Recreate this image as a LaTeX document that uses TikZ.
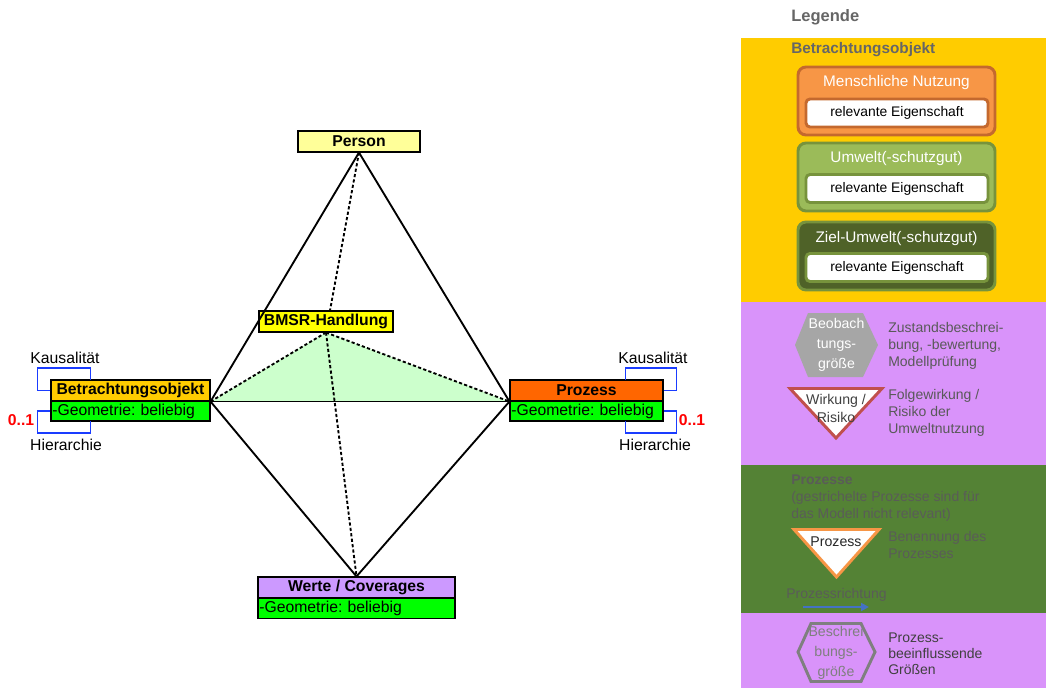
\documentclass[tikz,border=0pt]{standalone}
\usepackage{fontspec}
\setmainfont{Liberation Sans}
\usetikzlibrary{arrows.meta}
\definecolor{personyellow}{HTML}{FFFF99}
\definecolor{bmsryellow}{HTML}{FFFF00}
\definecolor{boorange}{HTML}{FFCC00}
\definecolor{pzorange}{HTML}{FF6600}
\definecolor{wertelila}{HTML}{CC99FF}
\definecolor{attrgreen}{HTML}{00FF00}
\definecolor{trifill}{HTML}{CCFFCC}
\definecolor{loopblue}{HTML}{1A3CFF}
\definecolor{legyellow}{HTML}{FFCC00}
\definecolor{legpurple}{HTML}{D993FA}
\definecolor{leggreen}{HTML}{548235}
\definecolor{orangefill}{HTML}{F79646}
\definecolor{orangeborder}{HTML}{C4692E}
\definecolor{greenfill}{HTML}{9BBB59}
\definecolor{greenborder}{HTML}{77933C}
\definecolor{darkgreenfill}{HTML}{4F6228}
\definecolor{hexgray}{HTML}{A6A6A6}
\definecolor{trired}{HTML}{C0504D}
\definecolor{triorange}{HTML}{F79646}
\definecolor{arrowblue}{HTML}{4472C4}
\definecolor{hexline}{HTML}{7F7F7F}
\definecolor{greentext}{HTML}{5A5C58}
\definecolor{descgray}{HTML}{595959}
\definecolor{darkdesc}{HTML}{404040}
\definecolor{titlegray}{HTML}{666666}
\frenchspacing
\begin{document}
\begin{tikzpicture}[x=0.75pt,y=-0.75pt,
  hdr/.style={draw=black, line width=0.8pt, inner sep=0pt, minimum height=15.75pt,
    font=\fontsize{11.8}{14}\selectfont\bfseries},
  attr/.style={draw=black, line width=0.8pt, fill=attrgreen, inner ysep=0pt, inner xsep=1pt,
    minimum height=15pt, align=left, font=\fontsize{11.8}{14}\selectfont},
  edgeline/.style={line width=1.4pt},
  dotline/.style={line width=1.4pt, dash pattern=on 2.4pt off 1.7pt},
  loopline/.style={draw=loopblue, line width=1.4pt},
  lbl/.style={inner sep=0pt, font=\fontsize{11.8}{14}\selectfont},
  mult/.style={inner sep=0pt, text=red, font=\fontsize{11.8}{14}\selectfont\bfseries},
  outerbox/.style={rounded corners=6pt, line width=2.2pt, minimum width=147.75pt, minimum height=51pt, inner sep=0pt},
  innerbox/.style={rounded corners=3pt, line width=2.2pt, fill=white, minimum width=136.5pt, minimum height=21pt, inner sep=0pt,
    font=\fontsize{10.4}{12}\selectfont},
  boxtitle/.style={inner sep=0pt, text=white, font=\fontsize{11.5}{13}\selectfont},
  desc/.style={anchor=west, inner sep=0pt, align=left, font=\fontsize{10.5}{12.75}\selectfont},
  shapetext/.style={inner sep=0pt, align=center, font=\fontsize{10.3}{15}\selectfont}
]
\useasboundingbox (0,0) rectangle (1046,688);

% ---------- main diagram nodes ----------
\node[hdr, fill=personyellow, minimum width=91.5pt] (person) at (359,141.5) {Person};
\node[hdr, fill=bmsryellow, minimum width=100.5pt] (bmsr) at (326,321.5) {BMSR-Handlung};
\node[hdr, fill=boorange, minimum width=119.25pt] (bohead) at (130.5,390.5) {Betrachtungsobjekt};
\node[attr, text width=117.25pt] (boattr) at (130.5,411) {-Geometrie: beliebig};
\node[hdr, fill=pzorange, minimum width=114.75pt] (pzhead) at (586.5,390.5) {Prozess};
\node[attr, text width=112.75pt] (pzattr) at (586.5,411) {-Geometrie: beliebig};
\node[hdr, fill=wertelila, minimum width=147.75pt] (werte) at (356.5,587.5) {Werte / Coverages};
\node[attr, text width=145.75pt] (werteattr) at (356.5,608.5) {-Geometrie: beliebig};

% ---------- connectors ----------
\fill[trifill] (bmsr.south) -- (bohead.south east) -- (pzhead.south west) -- cycle;
\draw[edgeline] (person.south) -- (bohead.south east);
\draw[edgeline] (person.south) -- (pzhead.south west);
\draw[edgeline] (bohead.south east) -- (pzhead.south west);
\draw[edgeline] (bohead.south east) -- (werte.north);
\draw[edgeline] (pzhead.south west) -- (werte.north);
\draw[dotline] (person.south) -- ([xshift=3pt]bmsr.north);
\draw[dotline] (bmsr.south) -- (werte.north);
\draw[dotline] (bmsr.south) -- (bohead.south east);
\draw[dotline] (bmsr.south) -- (pzhead.south west);

% ---------- self loops ----------
\draw[loopline] (bohead.west) -- ++(-13,0) -- ++(0,-22.5) -- ++(53,0) -- ++(0,12);
\draw[loopline] (boattr.west) -- ++(-13,0) -- ++(0,22) -- ++(53,0) -- ++(0,-12);
\draw[loopline] (pzhead.east) -- ++(13,0) -- ++(0,-22.5) -- ++(-51,0) -- ++(0,12);
\draw[loopline] (pzattr.east) -- ++(13,0) -- ++(0,22) -- ++(-51,0) -- ++(0,-12);

\node[lbl] (kausl) at (65,358) {Kausalität};
\node[lbl] (hierl) at (66,445) {Hierarchie};
\node[mult] (multl) at (21,420) {0..1};
\node[lbl] (kausr) at (653,358) {Kausalität};
\node[lbl] (hierr) at (655,445) {Hierarchie};
\node[mult] (multr) at (692,420) {0..1};

% ---------- legend ----------
\fill[legyellow] (741,38) rectangle (1046,302);
\fill[legpurple] (741,302) rectangle (1046,465);
\fill[leggreen] (741,465) rectangle (1046,613);
\fill[legpurple] (741,613) rectangle (1046,688);

\node[anchor=west, inner sep=0pt, text=titlegray, font=\fontsize{12.4}{14}\selectfont\bfseries] (legtitle) at (791,17) {Legende};
\node[anchor=west, inner sep=0pt, text=titlegray, font=\fontsize{11.5}{13}\selectfont\bfseries] (legbo) at (791,50) {Betrachtungsobjekt};

\node[outerbox, draw=orangeborder, fill=orangefill] (nutz) at (896.5,101) {};
\node[boxtitle] (nutzt) at (896.5,83) {Menschliche Nutzung};
\node[innerbox, draw=orangeborder] (nutzi) at (897,113) {relevante Eigenschaft};

\node[outerbox, draw=greenborder, fill=greenfill] (umw) at (896.5,177) {};
\node[boxtitle] (umwt) at (896.5,159) {Umwelt(-schutzgut)};
\node[innerbox, draw=greenborder] (umwi) at (897,188.5) {relevante Eigenschaft};

\node[outerbox, draw=greenborder, fill=darkgreenfill] (ziel) at (896.5,256) {};
\node[boxtitle] (zielt) at (896.5,239) {Ziel-Umwelt(-schutzgut)};
\node[innerbox, draw=greenborder] (zieli) at (897,267.5) {relevante Eigenschaft};

% observation hexagon
\fill[hexgray] (795,345) -- (808,313) -- (863,313) -- (878,345) -- (863,377) -- (808,377) -- cycle;
\node[shapetext, text=white, font=\fontsize{10.6}{15}\selectfont] (beob) at (836.5,345) {Beobach\\tungs-\\größe};
\node[desc, text=descgray] (zust) at (888,345.5) {Zustandsbeschrei-\\bung, -bewertung,\\Modellprüfung};

% effect triangle
\draw[line width=2.2pt, draw=trired, fill=white] (790,388.5) -- (882,388.5) -- (836,438) -- cycle;
\node[shapetext, text=darkdesc, font=\fontsize{10.6}{13.5}\selectfont] (wirk) at (836,408) {Wirkung /\\Risiko};
\node[desc, text=descgray] (folge) at (888,413) {Folgewirkung /\\Risiko der\\Umweltnutzung};

% processes
\node[desc, text=greentext] (proz) at (791,498) {\textbf{Prozesse}\\(gestrichelte Prozesse sind für\\das Modell nicht relevant)};
\draw[line width=2.2pt, draw=triorange, fill=white] (794,529.5) -- (879,529.5) -- (836.5,577) -- cycle;
\node[shapetext, text=black!85, font=\fontsize{10.6}{13}\selectfont] (prozt) at (836,542) {Prozess};
\node[desc, text=greentext] (benenn) at (888,545) {Benennung des\\Prozesses};
\node[desc, text=greentext] (richt) at (786,595) {Prozessrichtung};
\coordinate (arrs) at (803,607);
\coordinate (arre) at (869,607);
\draw[draw=arrowblue, line width=1.5pt, -{Triangle[length=6pt,width=6pt]}] (arrs) -- (arre);

% description hexagon
\draw[line width=2.2pt, draw=hexline] (798,652) -- (811,623.5) -- (861,623.5) -- (875,652) -- (861,681.5) -- (811,681.5) -- cycle;
\node[shapetext, text=hexline, font=\fontsize{10.6}{15}\selectfont] (beschr) at (836,653) {Beschrei\\bungs-\\größe};
\node[desc, text=darkdesc, font=\fontsize{10.5}{12}\selectfont] (beeinfl) at (888,654) {Prozess-\\beeinflussende\\Größen};
\end{tikzpicture}
\end{document}
